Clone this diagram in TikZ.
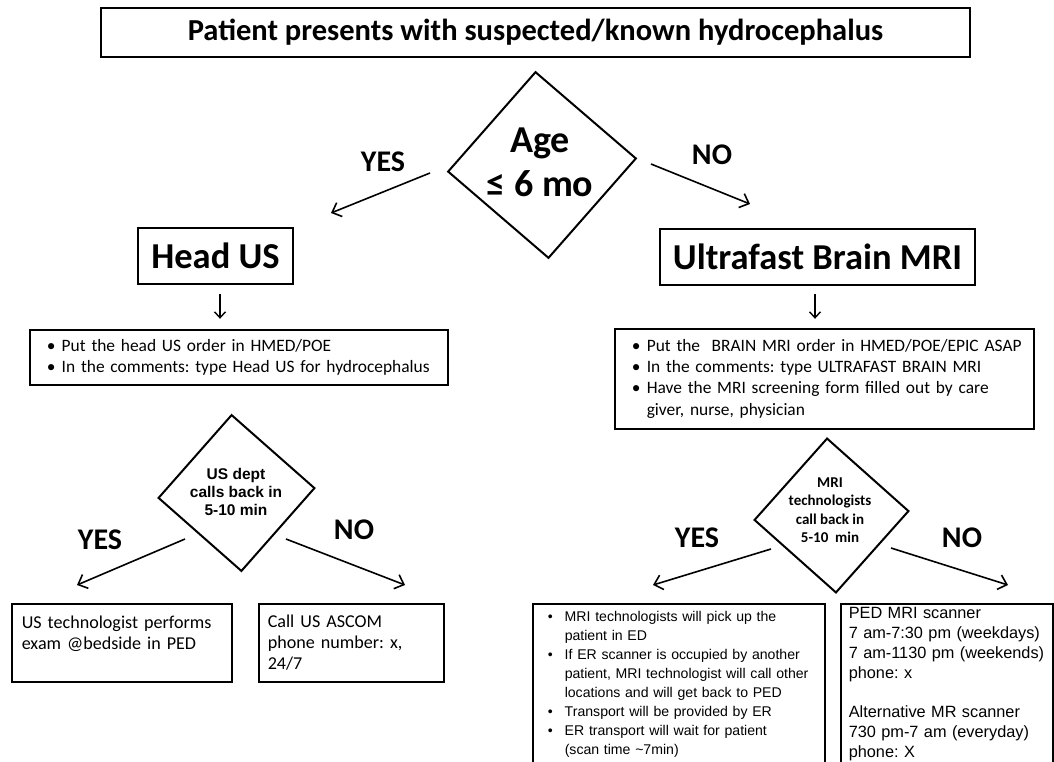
\documentclass[tikz,border=0pt]{standalone}
\usepackage{fontspec}
\setmainfont{Carlito}
\newfontfamily\arialfont{Liberation Sans}
\usetikzlibrary{shapes.geometric, arrows.meta}
\newcommand{\itm}[2][0pt]{\makebox[#2][l]{\hspace*{#1}\textbullet}}
\frenchspacing

\begin{document}
\begin{tikzpicture}[x=1pt, y=-1pt, line join=miter]
    \tikzstyle{box} = [rectangle, draw, line width=1.6pt, inner sep=0pt, text centered]
    \tikzstyle{listbox} = [rectangle, draw, line width=1.5pt, anchor=north west, align=left, inner xsep=6pt]
    \tikzstyle{decision} = [diamond, draw, line width=2pt, inner sep=0pt]
    \tikzstyle{answer} = [font=\fontsize{30}{32}\selectfont\bfseries]
    \tikzstyle{branch} = [-{Straight Barb[length=8pt, width=15pt]}, line width=1.6pt]
    \tikzstyle{down_arrow} = [-{Straight Barb[length=6pt, width=11pt]}, line width=1.4pt]

    \clip (0,0) rectangle (1054,761);

    % Start
    \node [box, minimum width=869pt, minimum height=49pt, font=\fontsize{30.5}{33}\selectfont\bfseries] (start) at (535.5,32.5) {Patient presents with suspected/known hydrocephalus};

    % Age check
    \node [decision, rotate=4, minimum width=189pt, minimum height=187pt] (age_check) at (542,165) {};
    \node [font=\fontsize{38}{44}\selectfont\bfseries, align=center] (age_text) at ([xshift=-2pt, yshift=3pt]age_check.center) {Age\\≤\ 6 mo};
    \node [answer] (age_yes) at (383,162) {YES};
    \node [answer] (age_no) at (712,155) {NO};
    \coordinate (age_yes_from) at (430,173);
    \coordinate (age_yes_to) at (331,213);
    \coordinate (age_no_from) at (651,164);
    \coordinate (age_no_to) at (750,204);

    % Studies
    \node [box, minimum width=155pt, minimum height=56pt, font=\fontsize{36.5}{40}\selectfont\bfseries] (head_us) at (215.5,256) {Head US};
    \node [box, minimum width=315pt, minimum height=56pt, font=\fontsize{36.5}{40}\selectfont\bfseries] (brain_mri) at (817.5,257) {Ultrafast Brain MRI};

    % Orders
    \node [listbox, text width=406pt, minimum height=55pt, font=\fontsize{17.4}{21}\selectfont] (us_orders) at (29,329)
        {\itm[11pt]{26pt}Put the head US order in HMED/POE\\
         \itm[11pt]{26pt}In the comments: type Head US for hydrocephalus};
    \node [listbox, text width=407pt, minimum height=100pt, font=\fontsize{17.4}{21.3}\selectfont] (mri_orders) at (614,328)
        {\itm[11pt]{26pt}Put the \ BRAIN MRI order in HMED/POE/EPIC ASAP\\
         \itm[11pt]{26pt}In the comments: type ULTRAFAST BRAIN MRI\\
         \itm[11pt]{26pt}Have the MRI screening form filled out by care\\
         \hspace*{26pt}giver, nurse, physician};

    % Call back checks
    \node [decision, rotate=3.6, minimum width=157pt, minimum height=157pt] (us_callback) at (236.5,493) {};
    \node [font=\arialfont\bfseries\fontsize{15.5}{18}\selectfont, align=center] (us_callback_text) at (236,492) {US dept\\calls back in\\5-10 min};
    \node [decision, rotate=3.3, minimum width=155pt, minimum height=155pt] (mri_callback) at (831.5,515.5) {};
    \node [font=\bfseries\fontsize{15}{18.5}\selectfont, align=center] (mri_callback_text) at (830,510) {MRI\\technologists\\ call back in\\5-10 \ min};

    \node [answer] (us_yes) at (100,540) {YES};
    \node [answer] (us_no) at (354,530) {NO};
    \node [answer] (mri_yes) at (697,538) {YES};
    \node [answer] (mri_no) at (962,538) {NO};
    \coordinate (us_yes_from) at (185,539);
    \coordinate (us_yes_to) at (77,585);
    \coordinate (us_no_from) at (286,539);
    \coordinate (us_no_to) at (405,585);
    \coordinate (mri_yes_from) at (771,549);
    \coordinate (mri_yes_to) at (653,585);
    \coordinate (mri_no_from) at (891,548);
    \coordinate (mri_no_to) at (1008,585);

    % Outcomes
    \node [listbox, text width=200pt, inner xsep=10pt, minimum height=78pt, font=\fontsize{18.1}{21}\selectfont] (us_tech) at (11,603)
        {US technologist performs\\exam @bedside in PED\\\mbox{}};
    \node [listbox, text width=167pt, inner xsep=9pt, minimum height=78pt, font=\fontsize{18.1}{21}\selectfont] (us_ascom) at (258,603)
        {Call US ASCOM\\phone number: x,\\24/7};
    \node [listbox, text width=280pt, inner xsep=6pt, inner ysep=8pt, font=\arialfont\fontsize{14.1}{19}\selectfont] (mri_pickup) at (532,603)
        {\itm[9pt]{26pt}MRI technologists will pick up the\\
         \hspace*{26pt}patient in ED\\
         \itm[9pt]{26pt}If ER scanner is occupied by another\\
         \hspace*{26pt}patient, MRI technologist will call other\\
         \hspace*{26pt}locations and will get back to PED\\
         \itm[9pt]{26pt}Transport will be provided by ER\\
         \itm[9pt]{26pt}ER transport will wait for patient\\
         \hspace*{26pt}(scan time \textasciitilde 7min)};
    \node [listbox, text width=196pt, inner xsep=8pt, inner ysep=4pt, font=\arialfont\fontsize{16.3}{19.8}\selectfont] (mri_scanners) at (840,603)
        {PED MRI scanner\\7 am-7:30 pm (weekdays)\\7 am-1130 pm (weekends)\\phone: x\\[19.8pt]Alternative MR scanner\\730 pm-7 am (everyday)\\phone: X};

    % Arrows
    \draw [branch] (age_yes_from) -- (age_yes_to);
    \draw [branch] (age_no_from) -- (age_no_to);
    \draw [down_arrow] ([xshift=4.5pt, yshift=-9pt]head_us.south) -- ++(0,25);
    \draw [down_arrow] ([xshift=-2.5pt, yshift=-8pt]brain_mri.south) -- ++(0,25);
    \draw [branch] (us_yes_from) -- (us_yes_to);
    \draw [branch] (us_no_from) -- (us_no_to);
    \draw [branch] (mri_yes_from) -- (mri_yes_to);
    \draw [branch] (mri_no_from) -- (mri_no_to);
\end{tikzpicture}
\end{document}
